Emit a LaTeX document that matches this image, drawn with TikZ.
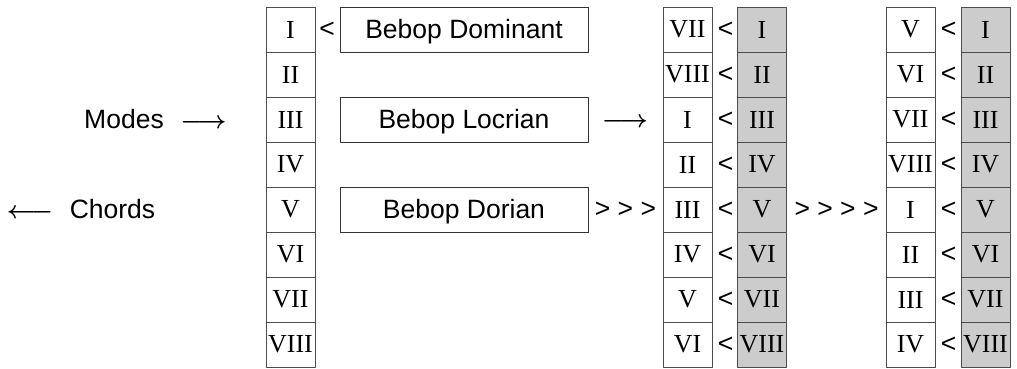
\documentclass[tikz,border=0pt]{standalone}
\usepackage{fontspec}
\setmainfont{Liberation Serif}
\newfontfamily\labelfont{Liberation Sans}
\usepackage{tikz}

\begin{document}
\begin{tikzpicture}[x=1pt,y=-1pt,line join=round,
  cell/.style={draw=black!70,line width=.9pt,minimum width=49,minimum height=45,inner sep=0pt,font=\fontsize{26}{26}\selectfont},
  keycell/.style={cell,fill=keygray},
  scalebox/.style={draw=black!80,line width=.9pt,minimum width=248,minimum height=45,inner sep=0pt,text height=18.6pt,text depth=0pt,font=\labelfont\fontsize{26.5}{26.5}\selectfont},
  sign/.style={inner sep=0pt,font=\labelfont\fontsize{26.5}{26.5}\selectfont},
  pointer/.style={inner sep=0pt,font=\fontsize{26}{26}\selectfont\boldmath}]
\definecolor{keygray}{HTML}{cccccc}
\useasboundingbox (0,0) rectangle (1017,369);
% legend
\node[sign] (modes) at (124,119.5) {Modes};
\node[pointer] (modesarrow) at (203.5,123.3) {$\longrightarrow$};
\node[pointer] (chordsarrow) at (30,214) {$\longleftarrow$};
\node[sign] (chords) at (112.5,209.5) {Chords};
% degree columns
\node[cell] (base1) at (290.5,29.5) {I};    \node[sign] (lt1) at (327,29.5) {<};
\node[cell] (shiftA1) at (687.5,29.5) {VII}; \node[sign] (ltA1) at (725.5,29.5) {<}; \node[keycell] (keyA1) at (762,29.5) {I};
\node[cell] (shiftB1) at (910.5,29.5) {V};   \node[sign] (ltB1) at (948.5,29.5) {<}; \node[keycell] (keyB1) at (985.5,29.5) {I};
\node[cell] (base2) at (290.5,74.5) {II};
\node[cell] (shiftA2) at (687.5,74.5) {VIII}; \node[sign] (ltA2) at (725.5,74.5) {<}; \node[keycell] (keyA2) at (762,74.5) {II};
\node[cell] (shiftB2) at (910.5,74.5) {VI};   \node[sign] (ltB2) at (948.5,74.5) {<}; \node[keycell] (keyB2) at (985.5,74.5) {II};
\node[cell] (base3) at (290.5,119.5) {III};
\node[cell] (shiftA3) at (687.5,119.5) {I};   \node[sign] (ltA3) at (725.5,119.5) {<}; \node[keycell] (keyA3) at (762,119.5) {III};
\node[cell] (shiftB3) at (910.5,119.5) {VII}; \node[sign] (ltB3) at (948.5,119.5) {<}; \node[keycell] (keyB3) at (985.5,119.5) {III};
\node[cell] (base4) at (290.5,164.5) {IV};
\node[cell] (shiftA4) at (687.5,164.5) {II};   \node[sign] (ltA4) at (725.5,164.5) {<}; \node[keycell] (keyA4) at (762,164.5) {IV};
\node[cell] (shiftB4) at (910.5,164.5) {VIII}; \node[sign] (ltB4) at (948.5,164.5) {<}; \node[keycell] (keyB4) at (985.5,164.5) {IV};
\node[cell] (base5) at (290.5,209.5) {V};
\node[cell] (shiftA5) at (687.5,209.5) {III}; \node[sign] (ltA5) at (725.5,209.5) {<}; \node[keycell] (keyA5) at (762,209.5) {V};
\node[cell] (shiftB5) at (910.5,209.5) {I};   \node[sign] (ltB5) at (948.5,209.5) {<}; \node[keycell] (keyB5) at (985.5,209.5) {V};
\node[cell] (base6) at (290.5,254.5) {VI};
\node[cell] (shiftA6) at (687.5,254.5) {IV}; \node[sign] (ltA6) at (725.5,254.5) {<}; \node[keycell] (keyA6) at (762,254.5) {VI};
\node[cell] (shiftB6) at (910.5,254.5) {II}; \node[sign] (ltB6) at (948.5,254.5) {<}; \node[keycell] (keyB6) at (985.5,254.5) {VI};
\node[cell] (base7) at (290.5,299.5) {VII};
\node[cell] (shiftA7) at (687.5,299.5) {V};   \node[sign] (ltA7) at (725.5,299.5) {<}; \node[keycell] (keyA7) at (762,299.5) {VII};
\node[cell] (shiftB7) at (910.5,299.5) {III}; \node[sign] (ltB7) at (948.5,299.5) {<}; \node[keycell] (keyB7) at (985.5,299.5) {VII};
\node[cell] (base8) at (290.5,344.5) {VIII};
\node[cell] (shiftA8) at (687.5,344.5) {VI}; \node[sign] (ltA8) at (725.5,344.5) {<}; \node[keycell] (keyA8) at (762,344.5) {VIII};
\node[cell] (shiftB8) at (910.5,344.5) {IV}; \node[sign] (ltB8) at (948.5,344.5) {<}; \node[keycell] (keyB8) at (985.5,344.5) {VIII};
% scale names
\node[scalebox] (dominant) at (464,29.5) {Bebop Dominant};
\node[scalebox] (locrian) at (464,119.5) {Bebop Locrian};
\node[scalebox] (dorian) at (464,209.5) {Bebop Dorian};
\node[pointer] (locrianarrow) at (625,123) {$\longrightarrow$};
\node[sign] (shiftsA) at (625.5,209.5) {> > >};
\node[sign] (shiftsB) at (836.5,209.5) {> > > >};
\end{tikzpicture}
\end{document}
